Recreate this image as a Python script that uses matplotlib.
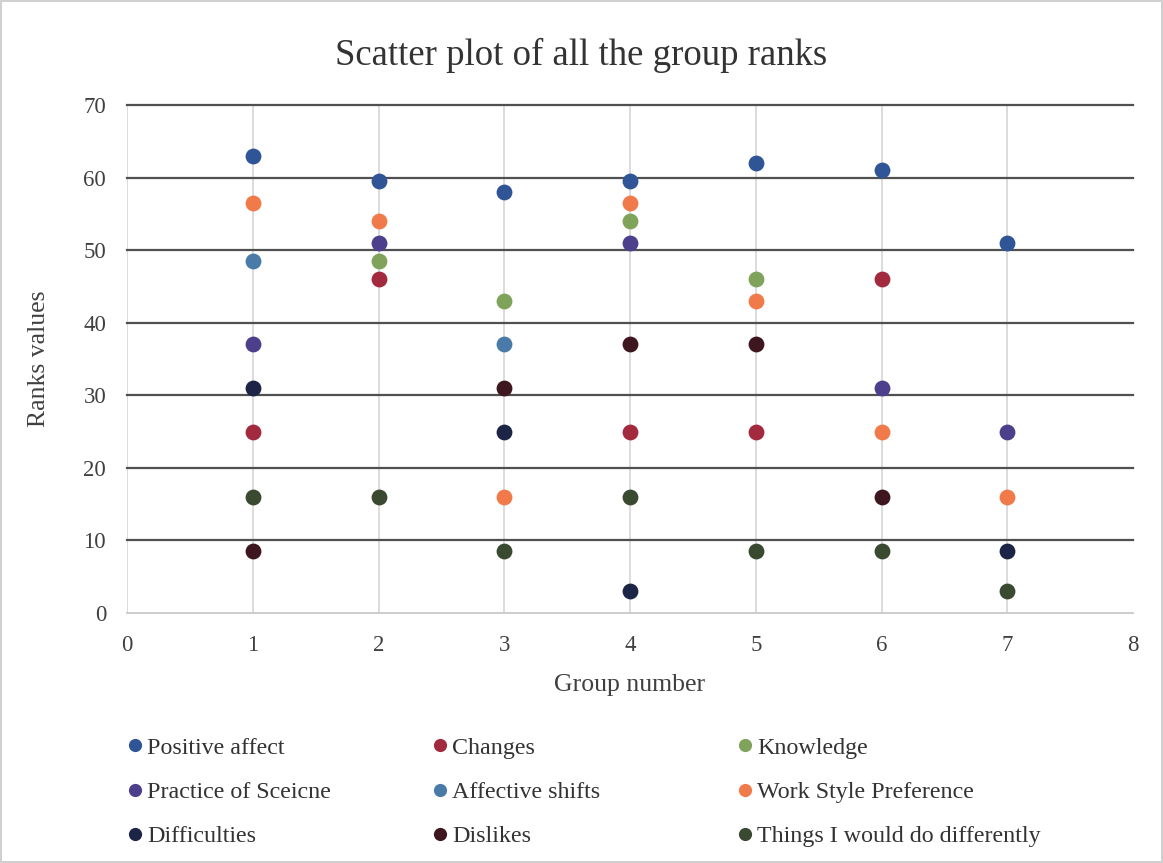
import numpy as np
import matplotlib
matplotlib.use("Agg")
import matplotlib.pyplot as plt
from matplotlib.lines import Line2D

plt.rcParams['font.family'] = ['Liberation Serif', 'DejaVu Serif']

groups = [1, 2, 3, 4, 5, 6, 7]
nan = np.nan
positive_affect = [63, 59.5, 58, 59.5, 62, 61, 51]
changes = [25, 46, nan, 25, 25, 46, nan]
knowledge = [nan, 48.5, 43, 54, 46, nan, nan]
practice_of_science = [37, 51, nan, 51, nan, 31, 25]
affective_shifts = [48.5, nan, 37, nan, nan, nan, nan]
work_style_pref = [56.5, 54, 16, 56.5, 43, 25, 16]
difficulties = [31, nan, 25, 3, nan, nan, 8.5]
dislikes = [8.5, nan, 31, 37, 37, 16, nan]
things_differently = [16, 16, 8.5, 16, 8.5, 8.5, 3]

series_names = ["Positive affect", "Changes", "Knowledge",
                "Practice of Sceicne", "Affective shifts", "Work Style Preference",
                "Difficulties", "Dislikes", "Things I would do differently"]
series_values = [positive_affect, changes, knowledge,
                 practice_of_science, affective_shifts, work_style_pref,
                 difficulties, dislikes, things_differently]
series_colors = ["#2f5597", "#a32a3e", "#7fa35a",
                 "#4e3f8c", "#4a7ba8", "#f07a4a",
                 "#1c2545", "#3d1620", "#3a4a30"]

W, H = 1163, 863
fig = plt.figure(figsize=(W / 100, H / 100), dpi=100)
fig.patch.set_facecolor("white")
fig.patch.set_edgecolor("#d0d0d0")
fig.patch.set_linewidth(1.5)

left, right, top, bottom = 127, 1133, 105, 613
ax = fig.add_axes([left / W, 1 - bottom / H, (right - left) / W, (bottom - top) / H])

for name, vals, col in zip(series_names, series_values, series_colors):
    ax.scatter(groups, vals, s=130, color=col, label=name, zorder=3, linewidths=0)

ax.set_xlim(0, 8)
ax.set_ylim(0, 70)
ax.set_xticks(range(0, 9))
ax.set_yticks(range(0, 71, 10))
ax.tick_params(length=0, labelsize=16.5, colors="#404040")
ax.tick_params(axis='x', pad=16)
ax.tick_params(axis='y', pad=15)
for s in ax.spines.values():
    s.set_visible(False)
for xv in range(0, 8):
    ax.axvline(xv, color="#d9d9d9", linewidth=1.3, zorder=1)
for yv in range(10, 71, 10):
    ax.axhline(yv, color="#505050", linewidth=1.6, zorder=2, clip_on=False)
ax.axhline(0, color="#c8c8c8", linewidth=1.3, zorder=2, clip_on=False)

ax.set_xlabel("Group number", fontsize=18.5, color="#404040", labelpad=13)
ax.set_ylabel("Ranks values", fontsize=18.5, color="#404040", labelpad=24)
fig.text(0.5, 1 - 55 / H, "Scatter plot of all the group ranks",
         ha="center", va="center", fontsize=26.5, color="#333333")

handles = [Line2D([], [], marker='o', linestyle='', markersize=9.5, color=c, markeredgewidth=0)
           for c in series_colors]
col_x = [128, 433, 738]
for ci in range(3):
    idx = [ci, ci + 3, ci + 6]
    fig.legend([handles[i] for i in idx], [series_names[i] for i in idx],
               loc="upper left", bbox_to_anchor=(col_x[ci] / W, 1 - 737 / H),
               frameon=False, fontsize=17.3, handlelength=0.6, handletextpad=0.2,
               labelspacing=0.93, borderpad=0, borderaxespad=0, labelcolor="#333333")

fig.savefig("out.png", dpi=100)
